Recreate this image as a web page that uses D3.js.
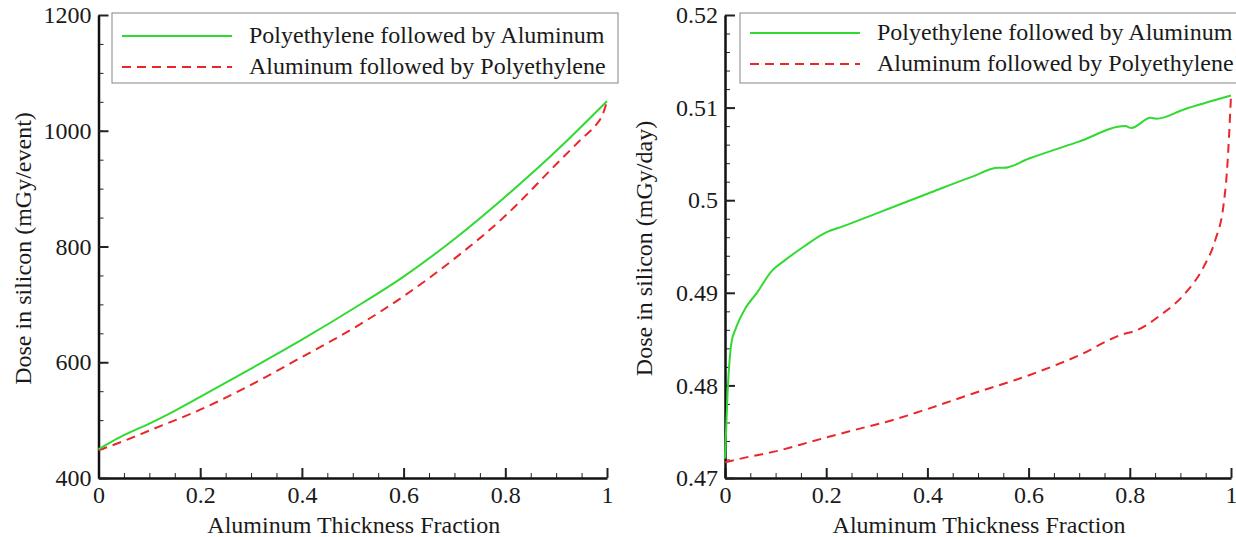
<!DOCTYPE html>
<html>
<head>
<meta charset="utf-8">
<script src="https://cdn.jsdelivr.net/npm/d3@7"></script>
<style>
  body { margin: 0; background: #fff; }
</style>
</head>
<body>
<svg id="chart" width="1236" height="537"></svg>
<script>
// series names
const seriesNames = ["Polyethylene followed by Aluminum", "Aluminum followed by Polyethylene"];

// left panel: dose per event
const leftPolyAlX = [0, 0.02, 0.05, 0.10, 0.15, 0.20, 0.30, 0.40, 0.50, 0.60, 0.70, 0.80, 0.90, 1.0];
const leftPolyAlY = [450, 460, 474, 494, 516, 540, 589, 639, 692, 748, 813, 886, 965, 1051];
const leftAlPolyX = [0, 0.05, 0.10, 0.20, 0.30, 0.40, 0.50, 0.60, 0.70, 0.80, 0.90, 0.95, 0.98, 0.99, 1.0];
const leftAlPolyY = [448, 464, 482, 518, 561, 609, 658, 714, 779, 853, 942, 986, 1012, 1025, 1051];

// right panel: dose per day
const rightPolyAlX = [0, 0.005, 0.013, 0.021, 0.04, 0.063, 0.093, 0.118, 0.156, 0.199, 0.234, 0.296, 0.40, 0.489, 0.54, 0.551, 0.601, 0.698, 0.791, 0.803, 0.841, 0.853, 0.907, 1.0];
const rightPolyAlY = [0.4721, 0.4791, 0.4847, 0.4861, 0.4883, 0.4900, 0.4924, 0.4935, 0.4950, 0.4965, 0.4972, 0.4985, 0.5007, 0.50255, 0.5035, 0.5035, 0.5045, 0.5063, 0.5080, 0.5078, 0.5089, 0.5088, 0.5098, 0.5113];
const rightAlPolyX = [0, 0.048, 0.102, 0.149, 0.195, 0.257, 0.334, 0.40, 0.489, 0.601, 0.698, 0.791, 0.806, 0.861, 0.907, 0.946, 0.969, 0.985, 0.992, 0.996, 1.0];
const rightAlPolyY = [0.4717, 0.4723, 0.4729, 0.4736, 0.4743, 0.4752, 0.4763, 0.47745, 0.4791, 0.4811, 0.4832, 0.4856, 0.4858, 0.4876, 0.4898, 0.4928, 0.4957, 0.4994, 0.5031, 0.5068, 0.5113];

// tick labels
const xTicks = [0, 0.2, 0.4, 0.6, 0.8, 1];
const leftYTicks = [400, 600, 800, 1000, 1200];
const rightYTicks = [0.47, 0.48, 0.49, 0.5, 0.51, 0.52];

const GREEN = "#30da30";
const RED = "#ea2629";
const FONT = "'Liberation Serif', 'Times New Roman', serif";
const FS = 24;
const TOP = 15, BOTTOM = 478;

const svg = d3.select("#chart");

const zip = (xs, ys) => xs.map((x, i) => [x, ys[i]]);

function panel(opts) {
  const g = svg.append("g");
  const x = d3.scaleLinear().domain([0, 1]).range([opts.x0, opts.x1]);
  const y = d3.scaleLinear().domain(opts.yDomain).range([BOTTOM, TOP]);

  // minor ticks
  g.append("g")
    .attr("transform", `translate(0,${BOTTOM})`)
    .call(d3.axisBottom(x).tickValues(d3.range(0, 1.0001, 0.05)).tickSize(-5).tickSizeOuter(0).tickFormat(""))
    .call(a => a.select(".domain").remove());
  g.append("g")
    .attr("transform", `translate(${opts.x0},0)`)
    .call(d3.axisLeft(y).tickValues(opts.yMinor).tickSize(-5).tickSizeOuter(0).tickFormat(""))
    .call(a => a.select(".domain").remove());

  // major axes
  const xa = g.append("g")
    .attr("transform", `translate(0,${BOTTOM})`)
    .call(d3.axisBottom(x).tickValues(xTicks).tickSize(-10).tickSizeOuter(0).tickFormat(d3.format("")));
  const ya = g.append("g")
    .attr("transform", `translate(${opts.x0},0)`)
    .call(d3.axisLeft(y).tickValues(opts.yTicks).tickSize(-10).tickSizeOuter(0).tickPadding(7)
      .tickFormat(opts.yFormat));
  [xa, ya].forEach(a => {
    a.select(".domain").attr("stroke", "#111").attr("stroke-width", 2.5);
    a.selectAll(".tick text")
      .style("font-family", FONT).style("font-size", FS + "px").attr("fill", "#1a1a1a");
  });
  g.selectAll(".tick line").attr("stroke", "#222").attr("stroke-width", 1);
  xa.selectAll(".tick line").attr("stroke-width", 2);
  ya.selectAll(".tick line").attr("stroke-width", 2);
  xa.selectAll(".tick text").attr("y", 24.5).attr("dy", 0);

  // titles
  g.append("text")
    .attr("x", (opts.x0 + opts.x1) / 2 + 1)
    .attr("y", 533)
    .attr("text-anchor", "middle")
    .style("font-family", FONT).style("font-size", FS + "px").attr("fill", "#1a1a1a")
    .text("Aluminum Thickness Fraction");
  g.append("text")
    .attr("transform", `translate(${opts.titleX},${(TOP + BOTTOM) / 2 + 2}) rotate(-90)`)
    .attr("text-anchor", "middle")
    .style("font-family", FONT).style("font-size", FS + "px").attr("fill", "#1a1a1a")
    .text(opts.yTitle);

  // lines
  const line = d3.line().x(d => x(d[0])).y(d => y(d[1])).curve(d3.curveMonotoneX);
  g.append("path")
    .attr("d", line(opts.red))
    .attr("fill", "none")
    .attr("stroke", RED)
    .attr("stroke-width", 2)
    .attr("stroke-dasharray", "9,6");
  g.append("path")
    .attr("d", line(opts.green))
    .attr("fill", "none")
    .attr("stroke", GREEN)
    .attr("stroke-width", 2);

  // legend
  const lg = g.append("g");
  lg.append("rect")
    .attr("x", opts.legX).attr("y", 13)
    .attr("width", opts.legW).attr("height", 70)
    .attr("fill", "#fff").attr("stroke", "#999").attr("stroke-width", 1.2);
  const rows = [
    { name: seriesNames[0], color: GREEN, dash: null, y: opts.legY0 },
    { name: seriesNames[1], color: RED, dash: "9,6", y: opts.legY0 + 31 }
  ];
  rows.forEach(r => {
    lg.append("line")
      .attr("x1", opts.legX + 10).attr("x2", opts.legX + 120)
      .attr("y1", r.y).attr("y2", r.y)
      .attr("stroke", r.color).attr("stroke-width", 2)
      .attr("stroke-dasharray", r.dash);
    lg.append("text")
      .attr("x", opts.legTextX).attr("y", r.y + 7)
      .style("font-family", FONT).style("font-size", FS + "px").attr("fill", "#1a1a1a")
      .text(r.name);
  });
}

panel({
  x0: 98.5, x1: 607,
  yDomain: [400, 1200],
  yTicks: leftYTicks,
  yMinor: d3.range(400, 1201, 50),
  yFormat: d3.format("d"),
  yTitle: "Dose in silicon (mGy/event)",
  titleX: 31,
  green: zip(leftPolyAlX, leftPolyAlY),
  red: zip(leftAlPolyX, leftAlPolyY),
  legX: 112, legW: 506, legY0: 36, legTextX: 249
});

panel({
  x0: 725, x1: 1231,
  yDomain: [0.47, 0.52],
  yTicks: rightYTicks,
  yMinor: d3.range(0.47, 0.5201, 0.002),
  yFormat: d => String(+d.toFixed(2)),
  yTitle: "Dose in silicon (mGy/day)",
  titleX: 652,
  green: zip(rightPolyAlX, rightPolyAlY),
  red: zip(rightAlPolyX, rightAlPolyY),
  legX: 740, legW: 520, legY0: 33, legTextX: 877
});
</script>
</body>
</html>
